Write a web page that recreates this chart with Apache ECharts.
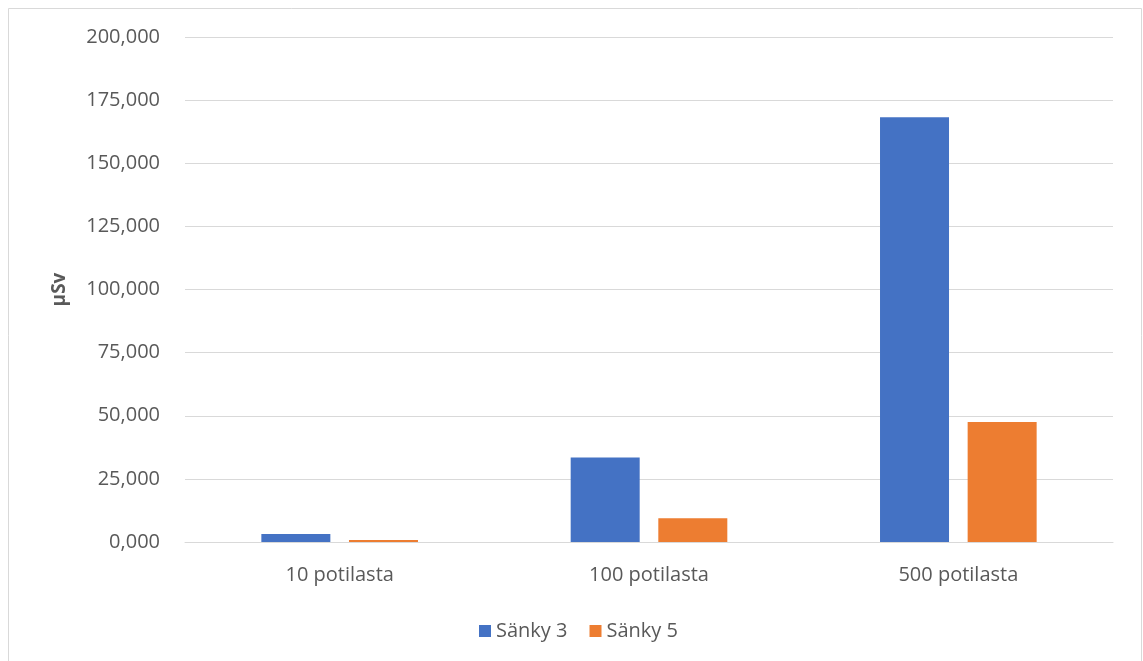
<!DOCTYPE html>
<html>
<head>
<meta charset="utf-8">
<script src="https://cdn.jsdelivr.net/npm/echarts@6/dist/echarts.min.js"></script>
<style>
  html, body { margin: 0; padding: 0; background: #fff; }
  #chart { width: 1143px; height: 661px; }
</style>
</head>
<body>
<div id="chart"></div>
<script>
// data
const categories = ['10 potilasta', '100 potilasta', '500 potilasta'];
const sanky3 = [3.2, 33.5, 168.2];
const sanky5 = [0.8, 9.4, 47.5];
const seriesNames = ['Sänky 3', 'Sänky 5'];

const fontFam = '"Open Sans", "Liberation Sans", sans-serif';
const textColor = '#595959';

// suomalainen muoto: pilkku desimaalierottimena
function fiFormat(v) {
  return v.toFixed(3).replace('.', ',');
}

const chart = echarts.init(document.getElementById('chart'));
chart.setOption({
  animation: false,
  backgroundColor: '#fff',
  graphic: [{
    type: 'rect',
    shape: { x: 8.5, y: 8.5, width: 1133, height: 660 },
    style: { fill: 'none', stroke: '#d9d9d9', lineWidth: 1 }
  }],
  grid: { left: 185, right: 30, top: 37, bottom: 119 },
  legend: {
    data: seriesNames,
    left: 474,
    top: 616,
    itemWidth: 12,
    itemHeight: 12,
    itemGap: 22,
    icon: 'rect',
    textStyle: { fontFamily: fontFam, fontSize: 20, color: textColor }
  },
  xAxis: {
    type: 'category',
    data: categories,
    axisLine: { show: true, lineStyle: { color: '#d9d9d9', width: 1 } },
    axisTick: { show: false },
    axisLabel: { fontFamily: fontFam, fontSize: 20, color: textColor, margin: 23 }
  },
  yAxis: {
    type: 'value',
    min: 0,
    max: 200,
    interval: 25,
    name: 'µSv',
    nameLocation: 'middle',
    nameGap: 116,
    nameTextStyle: { fontFamily: fontFam, fontSize: 19, fontWeight: 'bold', color: textColor },
    axisLine: { show: false },
    axisTick: { show: false },
    splitLine: { lineStyle: { color: '#d9d9d9', width: 1 } },
    axisLabel: {
      fontFamily: fontFam, fontSize: 20, color: textColor, margin: 25,
      formatter: fiFormat
    }
  },
  series: [
    {
      name: seriesNames[0],
      type: 'bar',
      data: sanky3,
      barWidth: 69,
      barGap: '27%',
      itemStyle: { color: '#4472c4' }
    },
    {
      name: seriesNames[1],
      type: 'bar',
      data: sanky5,
      barWidth: 69,
      itemStyle: { color: '#ed7d31' }
    }
  ]
});
</script>
</body>
</html>
